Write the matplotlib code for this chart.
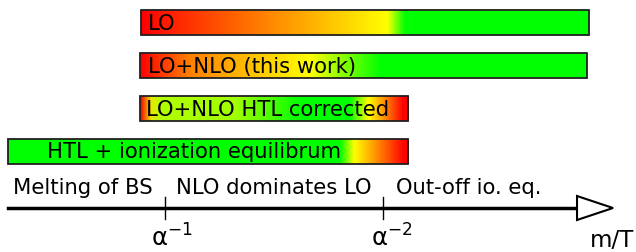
import numpy as np
import matplotlib.pyplot as plt
from matplotlib.colors import LinearSegmentedColormap
from matplotlib.patches import Rectangle, Polygon

# bars: span in units of the m/T axis (1 = alpha^-1, 2 = alpha^-2)
labels = ['LO', 'LO+NLO (this work)', 'LO+NLO HTL corrected', 'HTL + ionization equilibrum']
starts = [0.89, 0.885, 0.885, 0.28]
ends = [2.945, 2.935, 2.115, 2.115]
label_x = [0.92, 0.92, 0.915, 0.46]
gradients = [
    [(0.0, '#ff0000'), (0.27, '#ff8000'), (0.55, '#ffff00'), (0.59, '#00ff00'), (1.0, '#00ff00')],
    [(0.0, '#ff0000'), (0.11, '#ff8000'), (0.38, '#ffff00'), (0.54, '#00ff00'), (1.0, '#00ff00')],
    [(0.0, '#ff0000'), (0.04, '#e8e800'), (0.08, '#b0ff00'), (0.36, '#a0ff00'), (0.60, '#00ff00'),
     (0.78, '#00ff00'), (0.85, '#ffff00'), (0.91, '#ff9000'), (0.98, '#ff0000'), (1.0, '#ff0000')],
    [(0.0, '#00ff00'), (0.83, '#00ff00'), (0.865, '#ffff00'), (0.92, '#ff9000'), (0.99, '#ff0000'),
     (1.0, '#ff0000')],
]

# axis annotations
regions = ['Melting of BS', 'NLO dominates LO', 'Out-off io. eq.']
region_x = [0.303, 1.05, 2.06]
ticks = [1, 2]
tick_labels = ['α$^{\\mathregular{-1}}$', 'α$^{\\mathregular{-2}}$']
tick_label_x = [1.032, 2.04]

fig = plt.figure(figsize=(6.36, 2.52), dpi=100)
ax = fig.add_axes([0, 0, 1, 1])
ax.set_xlim(1 - 165 / 218, 1 + 471 / 218)
ax.set_ylim(252, 0)
ax.axis('off')

bar_h = 25
for i, lab in enumerate(labels):
    y0 = 10 + i * 43
    cmap = LinearSegmentedColormap.from_list('g%d' % i, gradients[i])
    grad = np.linspace(0, 1, 512).reshape(1, -1)
    ax.imshow(grad, cmap=cmap, aspect='auto', interpolation='bilinear',
              extent=[starts[i], ends[i], y0 + bar_h, y0], zorder=1)
    ax.add_patch(Rectangle((starts[i], y0), ends[i] - starts[i], bar_h,
                           fill=False, edgecolor='#202020', lw=1.3, zorder=2))
    ax.text(label_x[i], y0 + bar_h / 2 + 1, lab, fontsize=15.2, va='center', ha='left', zorder=3)

# the m/T axis
y_ax = 208
ax.plot([0.28, 2.89], [y_ax, y_ax], color='black', lw=2.5, zorder=2)
ax.add_patch(Polygon([[2.89, y_ax - 12], [2.89, y_ax + 12], [3.055, y_ax]], closed=True,
                     facecolor='white', edgecolor='black', lw=1.5, zorder=3))
for t, tl, tx in zip(ticks, tick_labels, tick_label_x):
    ax.plot([t, t], [y_ax - 11, y_ax + 11], color='black', lw=1, zorder=2)
    ax.text(tx, 247, tl, fontsize=17.5, ha='center', va='baseline')
ax.text(2.95, 247, 'm/T', fontsize=16.5, ha='left', va='baseline')
for r, rx in zip(regions, region_x):
    ax.text(rx, 188, r, fontsize=15.2, ha='left', va='center')

fig.savefig('out.png', dpi=100)
